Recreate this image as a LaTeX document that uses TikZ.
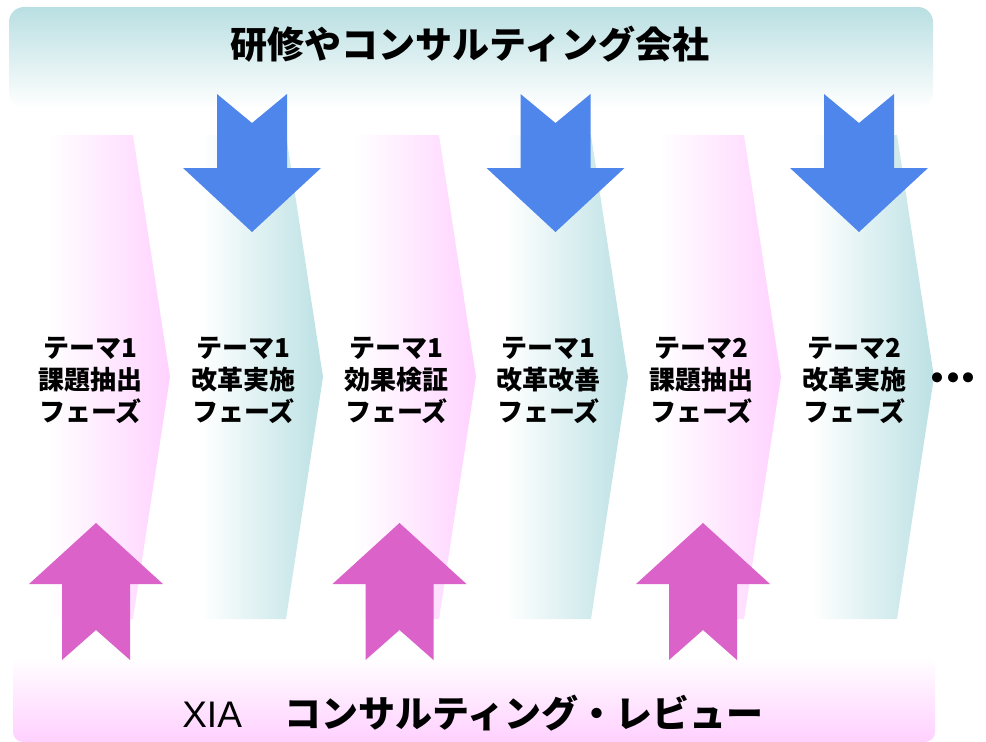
\documentclass[tikz,border=0pt]{standalone}
\usepackage{fontspec}
\usepackage{tikz}
\usetikzlibrary{calc}
\newfontfamily\jpfont{Noto Sans CJK JP}
\newfontfamily\latinfont{Liberation Sans}
\definecolor{bandteal}{RGB}{185,223,226}
\definecolor{bandpink}{RGB}{255,208,255}
\definecolor{phasepink}{RGB}{255,210,255}
\definecolor{phaseteal}{RGB}{188,225,228}
\definecolor{arrowblue}{RGB}{79,134,236}
\definecolor{arrowpink}{RGB}{219,98,200}
\tikzset{
	phase text/.style={align=center, font=\jpfont\bfseries\fontsize{26}{32}\selectfont},
	band text/.style={font=\jpfont\bfseries\fontsize{37}{40}\selectfont}
}
\def\phasebox(#1:#2)[#3]#4{%
	\shade[left color=white, right color=#3] (#1,135) -- (#1+85,135) -- (#1+122,377) -- (#1+85,619) -- (#1,619) -- cycle;
	\node[phase text] (#2) at (#1+42.5,380) {#4};}
\def\planarrow(#1){\fill[arrowblue] (#1-35,94) -- (#1,123) -- (#1+35,94) -- (#1+35,168) -- (#1+69,168) -- (#1,232) -- (#1-69,168) -- (#1-35,168) -- cycle;}
\def\reviewarrow(#1){\fill[arrowpink] (#1-34,660) -- (#1,630) -- (#1+34,660) -- (#1+34,584) -- (#1+67,584) -- (#1,523) -- (#1-67,584) -- (#1-34,584) -- cycle;}

\begin{document}
\begin{tikzpicture}[x=1pt, y=-1pt]
	%%%%% START %%%%%
	\useasboundingbox (0,0) rectangle (986,742);
	
	\shade[rounded corners=15pt, top color=bandteal, bottom color=white] (9,7) rectangle (933,108);
	\node[band text] (company) at (470,44) {研修やコンサルティング会社};
	
	\phasebox(48:p1)[phasepink]{テーマ1\\課題抽出\\フェーズ}
	\phasebox(201:p2)[phaseteal]{テーマ1\\改革実施\\フェーズ}
	\phasebox(354:p3)[phasepink]{テーマ1\\効果検証\\フェーズ}
	\phasebox(506:p4)[phaseteal]{テーマ1\\改革改善\\フェーズ}
	\phasebox(659:p5)[phasepink]{テーマ2\\課題抽出\\フェーズ}
	\phasebox(812:p6)[phaseteal]{テーマ2\\改革実施\\フェーズ}
	\node[font=\jpfont\bfseries\fontsize{36}{36}\selectfont] (more) at (953,382) {・\kern-20.5pt・\kern-20.5pt・};
	
	\shade[rounded corners=10pt, top color=white, bottom color=bandpink] (13,657) rectangle (935,742);
	\node[band text] (review) at (473,713) {{\latinfont\mdseries XIA}\hspace{43pt}コンサルティング・レビュー};
	
	\planarrow(252)
	\planarrow(555.5)
	\planarrow(859)
	
	\reviewarrow(96)
	\reviewarrow(399.5)
	\reviewarrow(703)
	%%%%% END %%%%%
\end{tikzpicture}
\end{document}
